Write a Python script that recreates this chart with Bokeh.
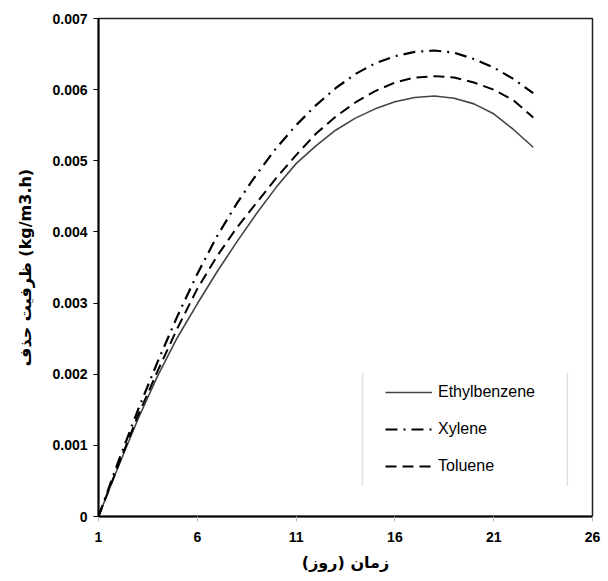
from bokeh.plotting import figure
from bokeh.models import Legend, LegendItem, FixedTicker, BoxAnnotation
from bokeh.embed import file_html
from bokeh.resources import INLINE

# ---- data ----
days = list(range(1, 24))
ethylbenzene = [0.0, 0.00070, 0.00137, 0.00198, 0.00252, 0.00299, 0.00344, 0.00386,
                0.00426, 0.00463, 0.00496, 0.00521, 0.00543, 0.00560, 0.00573, 0.00583,
                0.00589, 0.00591, 0.00588, 0.00580, 0.00566, 0.00544, 0.00519]
xylene = [0.0, 0.00077, 0.00150, 0.00218, 0.00282, 0.00341, 0.00394, 0.00440,
          0.00481, 0.00518, 0.00550, 0.00578, 0.00602, 0.00622, 0.00637, 0.00647,
          0.00653, 0.00655, 0.00652, 0.00643, 0.00631, 0.00615, 0.00595]
toluene = [0.0, 0.00072, 0.00142, 0.00205, 0.00265, 0.00320, 0.00366, 0.00406,
           0.00441, 0.00476, 0.00508, 0.00538, 0.00562, 0.00582, 0.00598, 0.00610,
           0.00617, 0.00619, 0.00617, 0.00610, 0.00600, 0.00585, 0.00561]
series_names = ["Ethylbenzene", "Xylene", "Toluene"]

x_ticks = [1, 6, 11, 16, 21, 26]
y_ticks = [0.0, 0.001, 0.002, 0.003, 0.004, 0.005, 0.006, 0.007]
y_tick_labels = ["0", "0.001", "0.002", "0.003", "0.004", "0.005", "0.006", "0.007"]
x_label = "زمان (روز)"
y_label = "ظرفیت حذف (kg/m3.h)"

# ---- figure ----
p = figure(width=608, height=581, output_backend="svg", toolbar_location=None,
           x_range=(1, 26), y_range=(0, 0.007),
           min_border_left=98, min_border_right=16, min_border_top=18, min_border_bottom=65)
p.grid.visible = False
p.outline_line_color = "#222222"
p.outline_line_width = 1.5
p.background_fill_color = "white"
p.border_fill_color = "white"

for ax in (p.xaxis[0], p.yaxis[0]):
    ax.axis_line_width = 2
    ax.axis_line_color = "black"
    ax.major_tick_in = 0
    ax.major_tick_out = 5
    ax.minor_tick_line_color = None
    ax.major_label_text_font = "Liberation Sans"
    ax.major_label_text_font_style = "bold"
    ax.major_label_text_font_size = "14px"
    ax.major_label_text_color = "black"
    ax.axis_label_text_font = "DejaVu Sans"
    ax.axis_label_text_font_style = "bold"
    ax.axis_label_text_font_size = "16px"
    ax.axis_label_text_color = "black"

p.xaxis.ticker = FixedTicker(ticks=x_ticks)
p.xaxis.major_tick_line_color = "#bbbbbb"
p.xaxis.major_label_standoff = 10
p.xaxis.axis_label = x_label
p.xaxis.axis_label_standoff = 8

p.yaxis.ticker = FixedTicker(ticks=y_ticks)
p.yaxis.major_label_overrides = {t: l for t, l in zip(y_ticks, y_tick_labels)}
p.yaxis.major_label_standoff = 6
p.yaxis.axis_label = y_label
p.yaxis.axis_label_standoff = 14

r_eb = p.line(days, ethylbenzene, line_color="#444444", line_width=1.6)
r_xy = p.line(days, xylene, line_color="black", line_width=2.2, line_dash="12 6 2 6")
r_to = p.line(days, toluene, line_color="black", line_width=2.0, line_dash="11 6")

legend = Legend(items=[LegendItem(label=series_names[0], renderers=[r_eb]),
                       LegendItem(label=series_names[1], renderers=[r_xy]),
                       LegendItem(label=series_names[2], renderers=[r_to])],
                location=(277, 30), glyph_width=47, glyph_height=20, label_height=20,
                label_standoff=6, spacing=17, padding=10, margin=0,
                border_line_alpha=0, background_fill_alpha=0,
                label_text_font="Liberation Sans", label_text_font_size="16px",
                label_text_color="black")
p.add_layout(legend, "center")

# gray side rules of the legend frame
for lx in (14.36, 24.73):
    p.add_layout(BoxAnnotation(left=lx, right=lx, bottom=0.00043, top=0.00202,
                               fill_alpha=0, line_color="#999999", line_width=1.5))

open("out.html", "w").write(file_html(p, INLINE))
